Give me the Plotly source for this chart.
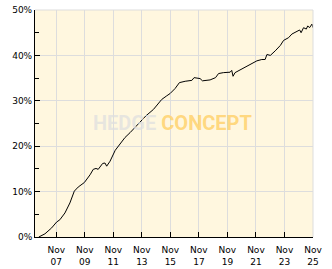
import plotly.graph_objects as go

dates = ["2006-08-10", "2007-01-15", "2007-07-05", "2007-11-10", "2008-02-01", "2008-06-10",
         "2008-10-15", "2009-02-05", "2009-05-15", "2009-10-20", "2010-03-15", "2010-06-05",
         "2010-08-15", "2010-10-10", "2011-02-01", "2011-04-01", "2011-05-15", "2011-08-10",
         "2011-12-20", "2012-04-20", "2012-08-25", "2013-01-05", "2013-05-10", "2013-09-15",
         "2014-02-15", "2014-08-25", "2015-01-01", "2015-03-25", "2015-08-01", "2015-10-25",
         "2016-03-01", "2016-06-20", "2016-11-15", "2017-05-05", "2017-07-01", "2017-10-20",
         "2017-12-01", "2018-02-01", "2018-05-20", "2018-08-15", "2019-01-01", "2019-03-20",
         "2019-07-20", "2020-01-10", "2020-02-20", "2020-03-25", "2020-05-15", "2020-08-10",
         "2020-12-15", "2021-04-25", "2021-06-10", "2021-09-25", "2021-11-25", "2022-04-01",
         "2022-06-25", "2022-08-10", "2022-11-05", "2023-03-10", "2023-07-20", "2023-10-10",
         "2024-02-15", "2024-05-10", "2024-09-20", "2024-11-25", "2025-01-01", "2025-03-05",
         "2025-05-15", "2025-06-20", "2025-08-05", "2025-10-08", "2025-11-01"]
returns = [0.0, 0.7, 2.0, 3.3, 3.8, 5.3,
           7.5, 10.1, 11.0, 12.0, 13.7, 14.9,
           15.1, 14.9, 16.2, 16.3, 15.6, 16.7,
           19.1, 20.4, 21.9, 23.0, 24.1, 25.3,
           26.7, 28.1, 29.6, 30.3, 31.1, 31.6,
           32.7, 34.0, 34.3, 34.5, 35.1, 34.9,
           34.9, 34.4, 34.6, 34.6, 35.1, 36.0,
           36.2, 36.3, 36.7, 35.4, 36.2, 36.6,
           37.1, 37.7, 38.0, 38.4, 38.8, 39.1,
           39.1, 40.2, 40.0, 41.0, 42.2, 43.3,
           43.9, 44.7, 45.4, 45.6, 45.0, 46.1,
           45.8, 46.5, 46.1, 46.9, 46.1]

tick_dates = ["2007-11-01", "2009-11-01", "2011-11-01", "2013-11-01", "2015-11-01",
              "2017-11-01", "2019-11-01", "2021-11-01", "2023-11-01", "2025-11-01"]
tick_labels = ["Nov<br>07", "Nov<br>09", "Nov<br>11", "Nov<br>13", "Nov<br>15",
               "Nov<br>17", "Nov<br>19", "Nov<br>21", "Nov<br>23", "Nov<br>25"]
y_ticks = [0, 10, 20, 30, 40, 50]
y_labels = ["0%", "10%", "20%", "30%", "40%", "50%"]

fig = go.Figure()
fig.add_trace(go.Scatter(x=dates, y=returns, mode="lines",
                         line=dict(color="black", width=1), hoverinfo="skip"))

fig.update_layout(
    width=332, height=269,
    margin=dict(l=35, r=19, t=10, b=32),
    paper_bgcolor="white", plot_bgcolor="#FFF7DF",
    showlegend=False,
    font=dict(family="DejaVu Sans", size=9, color="black"),
)
fig.update_xaxes(
    range=["2006-05-05", "2025-11-02"], automargin=False,
    tickmode="array", tickvals=tick_dates, ticktext=tick_labels,
    ticks="inside", ticklen=5, tickcolor="black", ticklabelstandoff=4,
    showline=True, linecolor="black", linewidth=1,
    showgrid=True, gridcolor="#DDDDDD", gridwidth=1,
    zeroline=False,
)
fig.update_yaxes(
    range=[0, 50], automargin=False,
    tickmode="array", tickvals=y_ticks, ticktext=y_labels,
    ticks="inside", ticklen=5, tickcolor="black",
    minor=dict(dtick=5, ticks="inside", ticklen=4, tickcolor="black", showgrid=False),
    showline=True, linecolor="black", linewidth=1,
    showgrid=True, gridcolor="#DDDDDD", gridwidth=1,
    zeroline=False,
)
fig.add_shape(type="line", xref="paper", yref="paper", x0=0, x1=1, y0=1, y1=1,
              line=dict(color="#DDDDDD", width=1))
fig.add_shape(type="line", xref="paper", yref="paper", x0=1, x1=1, y0=0, y1=1,
              line=dict(color="#DDDDDD", width=1))
fig.add_annotation(
    xref="paper", yref="paper", x=0.495, y=0.502, showarrow=False,
    text='<span style="color:rgba(222,223,224,0.72)">HEDGE</span> '
         '<span style="color:rgba(255,212,115,0.9)">CONCEPT</span>',
    font=dict(family="Roboto", size=20, weight="bold"),
)

fig.write_html("out.html")
